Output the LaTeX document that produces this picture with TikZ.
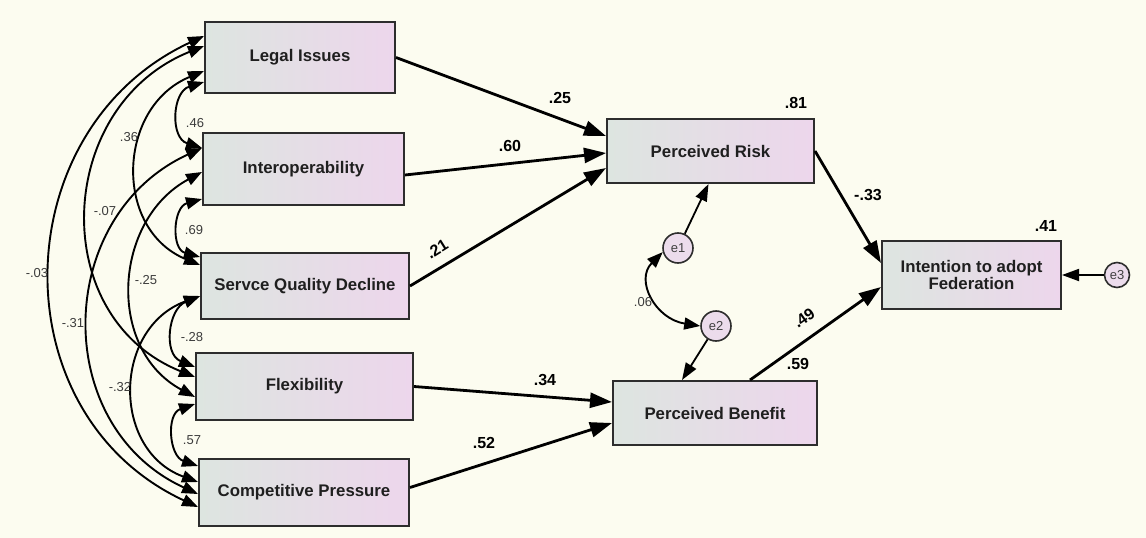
\documentclass[tikz,border=0pt]{standalone}
\usepackage{fontspec}
\setmainfont{Liberation Sans}
\usetikzlibrary{arrows.meta,calc}
\definecolor{bg}{RGB}{252,252,240}
\definecolor{boxL}{RGB}{221,229,224}
\definecolor{boxR}{RGB}{237,214,236}
\definecolor{edgec}{RGB}{45,45,45}
\definecolor{errfill}{RGB}{236,220,236}
\definecolor{smalltxt}{RGB}{60,60,60}
\begin{document}
\begin{tikzpicture}[x=1pt,y=-1pt,
  box/.style={draw=edgec, line width=2pt, left color=boxL, right color=boxR, inner sep=0pt, align=center,
    font=\fontsize{16.8}{18}\selectfont\bfseries, text=black!88},
  err/.style={circle, draw=edgec, line width=1.6pt, fill=errfill, minimum size=30pt, inner sep=0pt,
    font=\fontsize{13}{15}\selectfont, text=black!75},
  reg/.style={line width=2.8pt, ->, >={Triangle[length=22pt,width=15pt]}},
  errarrow/.style={line width=1.8pt, ->, >={Triangle[length=17pt,width=12pt]}},
  cov/.style={line width=1.9pt, <->, >={Triangle[length=16pt,width=12pt]}},
  coef/.style={font=\fontsize{16}{18}\selectfont\bfseries, inner sep=0pt},
  cl/.style={font=\fontsize{13}{15}\selectfont, text=smalltxt, inner sep=0pt}]
\useasboundingbox (0,0) rectangle (1146,538);
\fill[bg] (0,0) rectangle (1146,538);

% boxes
\node[box, minimum width=190pt, minimum height=71pt] (legal) at (300,57.5) {Legal Issues};
\node[box, minimum width=201pt, minimum height=72pt] (interop) at (303.5,169) {Interoperability};
\node[box, minimum width=208pt, minimum height=66pt] (servce) at (305,286) {Servce Quality Decline};
\node[box, minimum width=217pt, minimum height=67pt] (flex) at (304.5,386.5) {Flexibility};
\node[box, minimum width=210pt, minimum height=67pt] (comp) at (304,492.5) {Competitive Pressure};
\node[box, minimum width=207pt, minimum height=64pt] (risk) at (710.5,151) {Perceived Risk};
\node[box, minimum width=204pt, minimum height=64pt] (benefit) at (715,413) {Perceived Benefit};
\node[box, minimum width=179pt, minimum height=68pt] (intent) at (971.5,275) {Intention to adopt\\[-1pt]Federation};

% error terms
\node[err] (e1) at (678,248) {e1};
\node[err] (e2) at (716,326) {e2};
\node[err, minimum size=25pt] (e3) at (1117,275) {e3};

% arc end points on the left edges
\coordinate (La) at ($(legal.north west)+(0,15)$);
\coordinate (Lb) at ($(legal.north west)+(0,25)$);
\coordinate (Lc) at ($(legal.north west)+(0,50)$);
\coordinate (Ld) at ($(legal.north west)+(0,61)$);
\coordinate (Ia) at ($(interop.north west)+(0,16)$);
\coordinate (Ib) at ($(interop.north west)+(0,40)$);
\coordinate (Ic) at ($(interop.north west)+(0,67)$);
\coordinate (Sa) at ($(servce.north west)+(0,5)$);
\coordinate (Sb) at ($(servce.north west)+(0,13)$);
\coordinate (Sc) at ($(servce.north west)+(0,44)$);
\coordinate (Fa) at ($(flex.north west)+(0,15)$);
\coordinate (Fb) at ($(flex.north west)+(0,25)$);
\coordinate (Fc) at ($(flex.north west)+(0,45)$);
\coordinate (Fd) at ($(flex.north west)+(0,52)$);
\coordinate (Ca) at ($(comp.north west)+(0,8)$);
\coordinate (Cb) at ($(comp.north west)+(0,24)$);
\coordinate (Cc) at ($(comp.north west)+(0,36)$);
\coordinate (Cd) at ($(comp.north west)+(0,49)$);

% covariances
\draw[cov] (Ld) .. controls +(-32,10) and +(-32,-10) .. (Ia);
\draw[cov] (Ic) .. controls +(-29,8) and +(-29,-8) .. (Sa);
\draw[cov] (Sc) .. controls +(-32,13) and +(-32,-13) .. (Fa);
\draw[cov] (Fd) .. controls +(-29,10) and +(-29,-10) .. (Ca);
\draw[cov] (Lc) .. controls +(-87,36) and +(-87,-36) .. (Sb);
\draw[cov] (Lb) .. controls +(-149,60) and +(-149,-60) .. (Fb);
\draw[cov] (La) .. controls +(-200,93) and +(-200,-93) .. (Cd);
\draw[cov] (Ib) .. controls +(-89,48) and +(-89,-48) .. (Fc);
\draw[cov] (Ia) .. controls +(-148,68) and +(-148,-68) .. (Cc);
\draw[cov] (Sc) .. controls +(-87,32) and +(-87,-32) .. (Cb);
\draw[cov] (e1.195) .. controls +(-28,28) and +(-45,-7) .. (e2.west);

% covariance labels
\node[cl] (c46) at (195,123) {.46};
\node[cl] (c69) at (194,230) {.69};
\node[cl] (c28) at (192,337) {-.28};
\node[cl] (c57) at (192,440) {.57};
\node[cl] (c36) at (129,137) {.36};
\node[cl] (c07) at (105,211) {-.07};
\node[cl] (c03) at (37,273) {-.03};
\node[cl] (c25) at (146,280) {-.25};
\node[cl] (c31) at (73,323) {-.31};
\node[cl] (c32) at (120,387) {-.32};
\node[cl] (c06) at (643,302) {.06};

% regressions
\draw[reg] (legal.east) -- ($(risk.north west)+(0,18)$);
\draw[reg] ($(interop.east)+(0,6)$) -- ($(risk.west)+(0,2)$);
\draw[reg] (servce.east) -- ($(risk.west)+(0,17)$);
\draw[reg] (flex.east) -- ($(benefit.west)+(0,-11)$);
\draw[reg] ($(comp.east)+(0,-5)$) -- ($(benefit.west)+(0,10)$);
\draw[reg] (risk.east) -- ($(intent.west)+(0,-12)$);
\draw[reg] ($(benefit.north)+(35,0)$) -- ($(intent.west)+(0,12)$);
\draw[errarrow] (e1) -- ($(risk.south)+(-2,0)$);
\draw[errarrow] (e2) -- ($(benefit.north)+(-33,0)$);
\draw[errarrow] (e3) -- (intent.east);

% coefficient labels
\node[coef] (p25) at (560,98) {.25};
\node[coef] (p60) at (510,146) {.60};
\node[coef, rotate=32] (p21) at (437,249) {.21};
\node[coef] (p34) at (545,380) {.34};
\node[coef] (p52) at (484,443) {.52};
\node[coef] (p33) at (868,195) {-.33};
\node[coef, rotate=35] (p49) at (804,318) {.49};
\node[coef] (r59) at (798,364) {.59};
\node[coef] (r81) at (796,103) {.81};
\node[coef] (r41) at (1046,226) {.41};
\end{tikzpicture}
\end{document}
